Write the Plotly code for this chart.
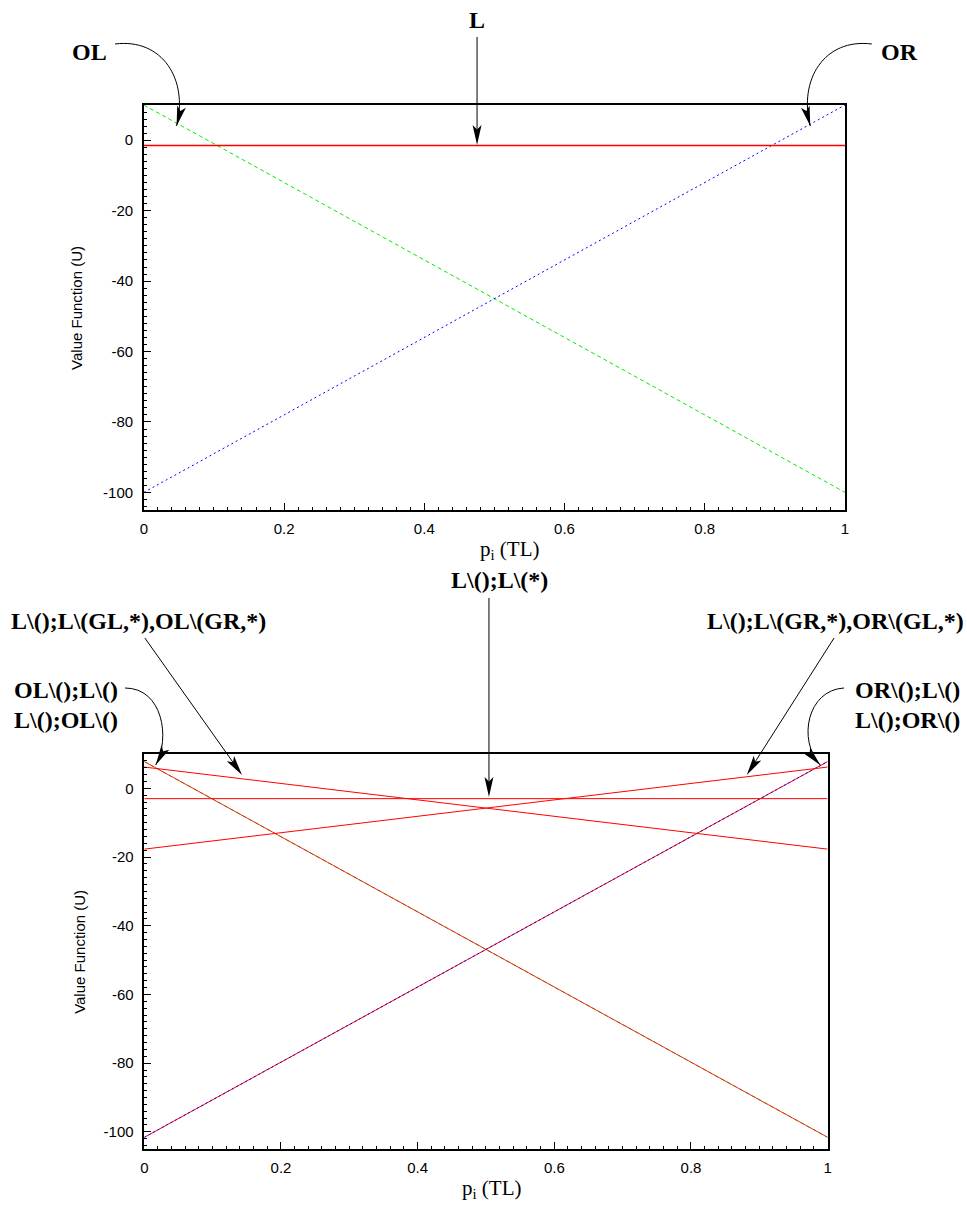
import math
import plotly.graph_objects as go

# ---------------- data ----------------
p = [0.0, 1.0]

# top panel (horizon 1)
top_OL = [10.0, -100.0]
top_OR = [-100.0, 10.0]
top_L = [-1.5, -1.5]

# bottom panel (horizon 2)
bot_OL_L = [7.8, -101.6]
bot_L_OL = [7.8, -101.6]
bot_OR_L = [-101.6, 7.8]
bot_L_OR = [-101.6, 7.8]
bot_L_L = [-3.0, -3.0]
bot_L_GL_OL = [6.2, -17.7]
bot_L_GR_OR = [-17.7, 6.2]

x_ticks = [0, 0.2, 0.4, 0.6, 0.8, 1]
x_tick_labels = ["0", "0.2", "0.4", "0.6", "0.8", "1"]
y_ticks = [-100, -80, -60, -40, -20, 0]
y_tick_labels = ["-100", "-80", "-60", "-40", "-20", "0"]

W, H = 967, 1205


def P(x, y):
    return x / W, 1 - y / H


def pt(x, y):
    a, b = P(x, y)
    return f"{a:.5f},{b:.5f}"


shapes = []
annotations = []


def head(tip, frm, L=20, Wd=9):
    tx, ty = tip
    dx, dy = tx - frm[0], ty - frm[1]
    n = math.hypot(dx, dy)
    dx, dy = dx / n, dy / n
    nx, ny = -dy, dx
    bx, by = tx - L * dx, ty - L * dy
    b1 = (bx + nx * Wd / 2, by + ny * Wd / 2)
    b2 = (bx - nx * Wd / 2, by - ny * Wd / 2)
    notch = (tx - 0.78 * L * dx, ty - 0.78 * L * dy)
    path = f"M {pt(*tip)} L {pt(*b1)} L {pt(*notch)} L {pt(*b2)} Z"
    shapes.append(dict(type="path", xref="paper", yref="paper", path=path,
                       fillcolor="black", line=dict(width=0), layer="above"))
    return notch


def straight_arrow(x0, y0, x1, y1):
    notch = head((x1, y1), (x0, y0))
    shapes.append(dict(type="path", xref="paper", yref="paper",
                       path=f"M {pt(x0, y0)} L {pt(*notch)}",
                       line=dict(color="black", width=1), layer="above"))


def curved_arrow(p0, p1, p2, p3):
    notch = head(p3, p2)
    shapes.append(dict(type="path", xref="paper", yref="paper",
                       path=f"M {pt(*p0)} C {pt(*p1)} {pt(*p2)} {pt(*p3)}",
                       line=dict(color="black", width=1), layer="above"))


SERIF = "Liberation Serif, Times New Roman, serif"
SANS = "Liberation Sans, Arial, Helvetica, sans-serif"


def label(text, x, y, xanchor="center", size=24):
    a, b = P(x, y)
    annotations.append(dict(text=f"<b>{text}</b>", x=a, y=b, xref="paper", yref="paper",
                            xanchor=xanchor, yanchor="middle", showarrow=False,
                            borderpad=0, font=dict(family=SERIF, size=size, color="black")))


# ---------------- figure ----------------
fig = go.Figure()

fig.add_trace(go.Scatter(x=p, y=top_OL, mode="lines", xaxis="x", yaxis="y",
                         line=dict(color="#00ee00", width=1, dash="4px,3px"), showlegend=False))
fig.add_trace(go.Scatter(x=p, y=top_OR, mode="lines", xaxis="x", yaxis="y",
                         line=dict(color="#0000ff", width=1, dash="2px,3px"), showlegend=False))
fig.add_trace(go.Scatter(x=p, y=top_L, mode="lines", xaxis="x", yaxis="y",
                         line=dict(color="#ff0000", width=1.6), showlegend=False))

fig.add_trace(go.Scatter(x=p, y=bot_L_OL, mode="lines", xaxis="x2", yaxis="y2",
                         line=dict(color="#00ee00", width=1, dash="4px,3px"), showlegend=False))
fig.add_trace(go.Scatter(x=p, y=bot_OL_L, mode="lines", xaxis="x2", yaxis="y2", opacity=0.85,
                         line=dict(color="#ff0000", width=1), showlegend=False))
fig.add_trace(go.Scatter(x=p, y=bot_OR_L, mode="lines", xaxis="x2", yaxis="y2",
                         line=dict(color="#ff0000", width=1), showlegend=False))
fig.add_trace(go.Scatter(x=p, y=bot_L_OR, mode="lines", xaxis="x2", yaxis="y2",
                         line=dict(color="#0000ff", width=1, dash="2px,3px"), showlegend=False))
fig.add_trace(go.Scatter(x=p, y=bot_L_L, mode="lines", xaxis="x2", yaxis="y2",
                         line=dict(color="#ff0000", width=1), showlegend=False))
fig.add_trace(go.Scatter(x=p, y=bot_L_GL_OL, mode="lines", xaxis="x2", yaxis="y2",
                         line=dict(color="#ff0000", width=1), showlegend=False))
fig.add_trace(go.Scatter(x=p, y=bot_L_GR_OR, mode="lines", xaxis="x2", yaxis="y2",
                         line=dict(color="#ff0000", width=1), showlegend=False))

common_x = dict(range=[0, 1], tickvals=x_ticks, ticktext=x_tick_labels,
                showline=True, linecolor="black", linewidth=1.5, mirror=True,
                ticks="inside", ticklen=7, tickwidth=1, tickcolor="black",
                minor=dict(ticks="inside", ticklen=3, dtick=0.02, tickcolor="black", tickwidth=1),
                showgrid=False, zeroline=False, ticklabelstandoff=4,
                tickfont=dict(family=SANS, size=15, color="black"))
common_y = dict(range=[-105, 10], tickvals=y_ticks, ticktext=y_tick_labels,
                showline=True, linecolor="black", linewidth=1.5, mirror=True,
                ticks="inside", ticklen=7, tickwidth=1, tickcolor="black",
                minor=dict(ticks="inside", ticklen=3, dtick=2, tick0=0, tickcolor="black", tickwidth=1),
                showgrid=False, zeroline=False, ticklabelstandoff=6,
                tickfont=dict(family=SANS, size=15, color="black"))

fig.update_layout(
    width=W, height=H, margin=dict(l=0, r=0, t=0, b=0),
    paper_bgcolor="white", plot_bgcolor="white", showlegend=False,
    xaxis=dict(domain=[141 / W, 848 / W], anchor="y", **common_x),
    yaxis=dict(domain=[1 - 510 / H, 1 - 105 / H], anchor="x", **common_y),
    xaxis2=dict(domain=[141.5 / W, 830.5 / W], anchor="y2", **common_x),
    yaxis2=dict(domain=[1 - 1149 / H, 1 - 754 / H], anchor="x2", **common_y),
)

# axis titles
for (cx, cy) in [(73, 307.5), (76, 951.5)]:
    a, b = P(cx, cy)
    annotations.append(dict(text="Value Function (U)", x=a, y=b, xref="paper", yref="paper",
                            textangle=-90, showarrow=False, xanchor="center", yanchor="middle",
                            font=dict(family=SANS, size=15, color="black")))
for (cx, cy) in [(510, 550), (492, 1189)]:
    a, b = P(cx, cy)
    annotations.append(dict(text="p<sub>i</sub> (TL)", x=a, y=b, xref="paper", yref="paper",
                            showarrow=False, xanchor="center", yanchor="middle",
                            font=dict(family=SERIF, size=21, color="black")))

# top labels and arrows
label("OL", 86, 52)
label("L", 477, 20)
label("OR", 903, 52)
straight_arrow(477, 37, 477, 145)
curved_arrow((112, 44), (160, 38), (186, 80), (174, 126))
curved_arrow((875, 44), (827, 38), (801, 80), (813, 126))

# bottom labels and arrows
label("L\\();L\\(*)", 450, 580, xanchor="left")
label("L\\();L\\(GL,*),OL\\(GR,*)", 265, 621, xanchor="right")
label("L\\();L\\(GR,*),OR\\(GL,*)", 708, 621, xanchor="left")
label("OL\\();L\\()", 116, 690, xanchor="right")
label("L\\();OL\\()", 116, 720, xanchor="right")
label("OR\\();L\\()", 857, 690, xanchor="left")
label("L\\();OR\\()", 857, 720, xanchor="left")
straight_arrow(489, 598, 489, 797)
straight_arrow(142, 638, 240, 775)
straight_arrow(837, 638, 749, 775)
curved_arrow((122, 688), (160, 688), (168, 738), (153, 765))
curved_arrow((847, 688), (810, 690), (800, 740), (823, 765))

fig.update_layout(shapes=shapes, annotations=annotations)
fig.write_html("out.html", config={"displayModeBar": False},
               post_script="document.body.style.margin='0';document.body.style.overflow='hidden';")
